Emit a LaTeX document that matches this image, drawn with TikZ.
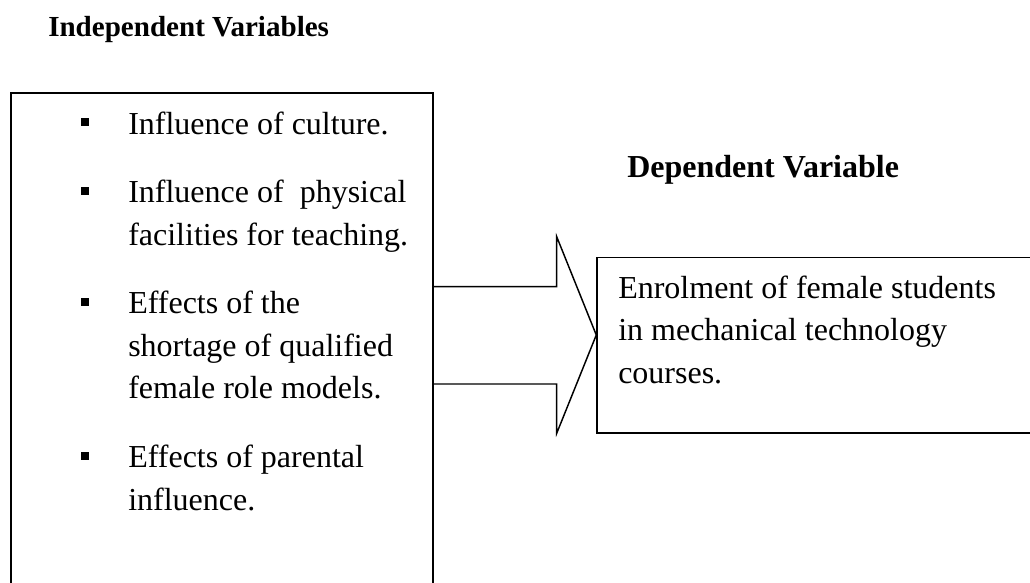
\documentclass[tikz,border=0pt]{standalone}
\usepackage{fontspec}
\setmainfont{Liberation Serif}
\usetikzlibrary{fit}
\begin{document}
\begin{tikzpicture}[x=0.75pt,y=-0.75pt,
  boxline/.style={draw=black,line width=1.1pt,inner sep=0pt},
  txt/.style={anchor=base west,inner sep=0pt,font=\fontsize{24}{29}\selectfont},
  head/.style={anchor=base west,inner sep=0pt,font=\fontsize{24}{29}\selectfont\bfseries},
  bul/.style={fill=black,draw=none,minimum size=6pt,inner sep=0pt},
  arrowline/.style={draw=black,line width=1.1pt,line join=miter}]
\useasboundingbox (0,0) rectangle (1030,582);
\clip (0,0) rectangle (1030,582);
% headings
\node[head,font=\fontsize{21.8}{26}\selectfont\bfseries] (hind) at (48,36) {Independent Variables};
\node[head] (hdep) at (627,177) {Dependent Variable};
% boxes
\node[boxline,fit={(11,93) (433,620)}] (lbox) {};
\node[boxline,fit={(597,257.5) (1050,433)}] (rbox) {};
% arrow connector
\coordinate (tip) at (rbox.west |- 0,335);
\draw[arrowline] (lbox.east |- 0,286.7) -- (556.7,286.7) -- (556.7,236.7) -- (tip)
  -- (556.7,433.3) -- (556.7,384) -- (lbox.east |- 0,384);
% left items
\node[txt] (i1) at (128,134) {Influence of culture.};
\node[txt] (i2a) at (128,202.7) {Influence of\ \ physical};
\node[txt] (i2b) at (128,245.2) {facilities for teaching.};
\node[txt] (i3a) at (128,313.9) {Effects of the};
\node[txt] (i3b) at (128,356.4) {shortage of qualified};
\node[txt] (i3c) at (128,398.9) {female role models.};
\node[txt] (i4a) at (128,467.5) {Effects of parental};
\node[txt] (i4b) at (128,510) {influence.};
% bullets
\node[bul] (b1) at (85,122) {};
\node[bul] (b2) at (85,190.7) {};
\node[bul] (b3) at (85,301.9) {};
\node[bul] (b4) at (85,455.5) {};
% right text
\node[txt] (d1) at (618,298.3) {Enrolment of female students};
\node[txt] (d2) at (618,340.8) {in mechanical technology};
\node[txt] (d3) at (618,383.3) {courses.};
\end{tikzpicture}
\end{document}
